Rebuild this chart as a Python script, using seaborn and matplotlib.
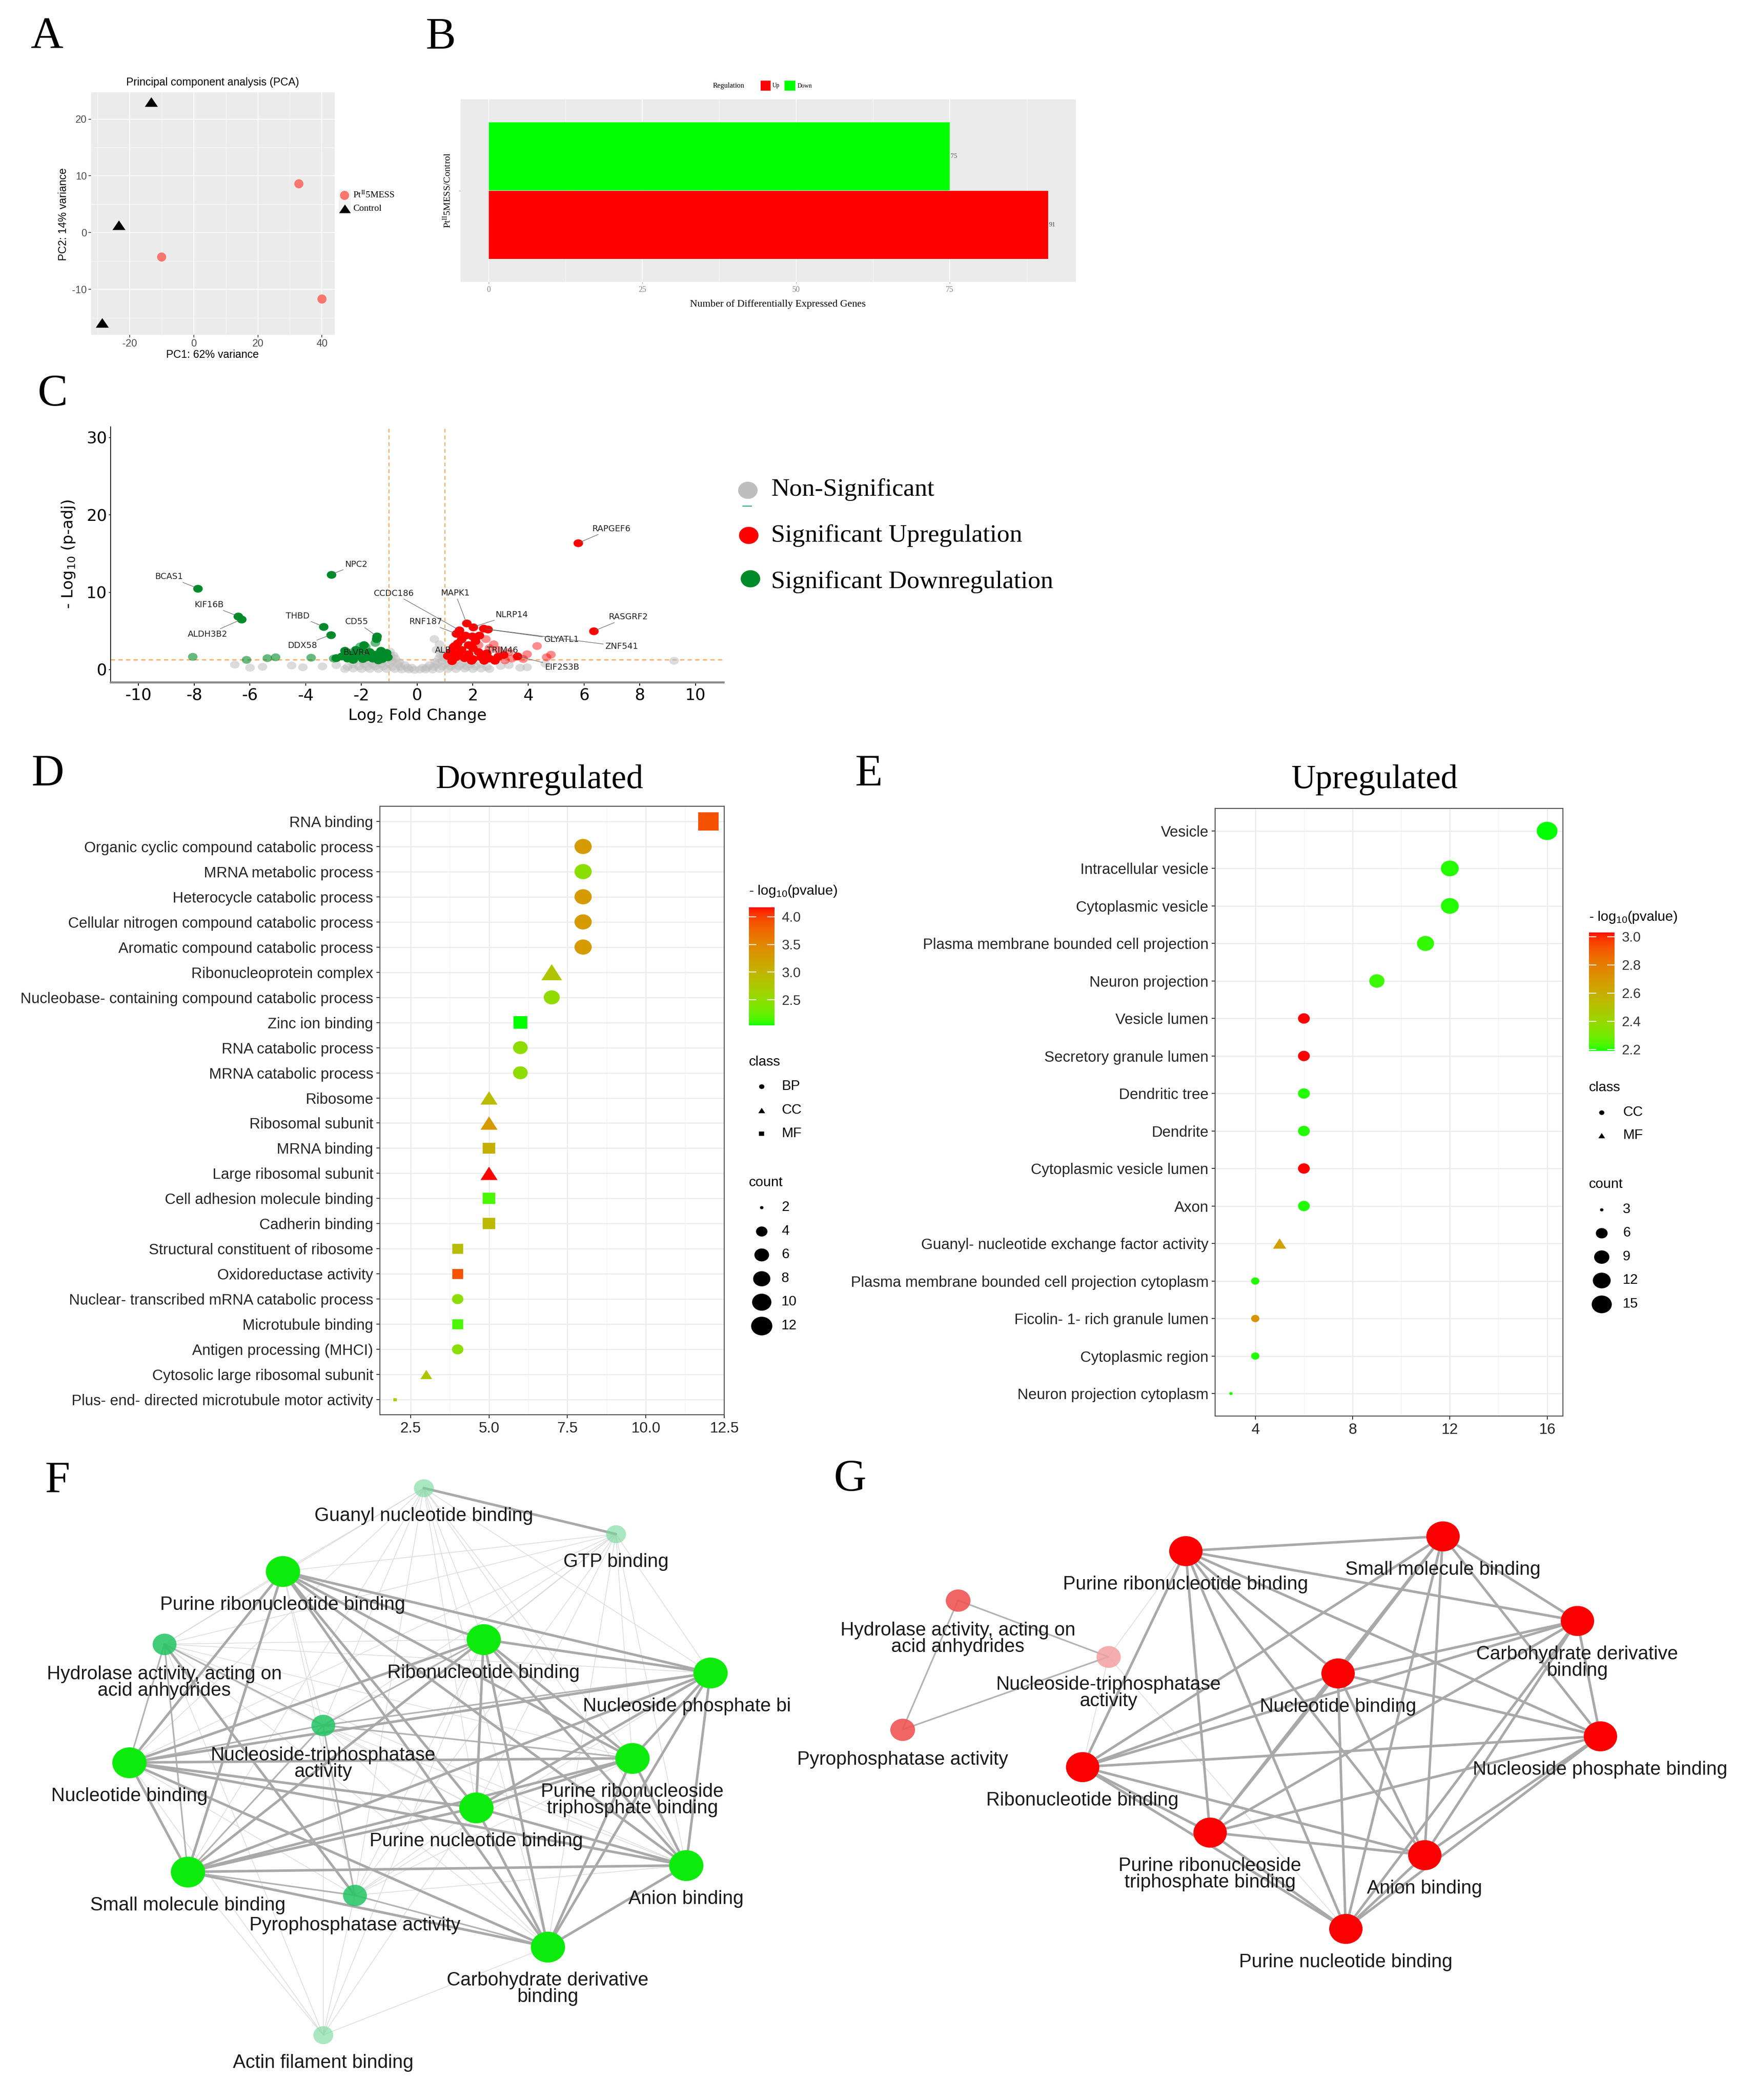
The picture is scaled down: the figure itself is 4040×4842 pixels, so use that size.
import numpy as np
import pandas as pd
import matplotlib
matplotlib.use("Agg")
import matplotlib.pyplot as plt
from matplotlib.path import Path
from matplotlib.patches import Rectangle
from matplotlib.colors import ListedColormap, Normalize
from matplotlib.cm import ScalarMappable
import seaborn as sns

W, H = 4041, 4842
SERIF = ["Liberation Serif", "DejaVu Serif"]
SANS = ["Liberation Sans", "DejaVu Sans"]
DJV = ["DejaVu Sans"]

# ---------------------------------------------------------------- data
# A - PCA
pca_pc1 = [32.8, -10.0, 40.0, -13.2, -23.3, -28.5]
pca_pc2 = [8.6, -4.3, -11.7, 23.0, 1.3, -15.9]
pca_group = ["Pt", "Pt", "Pt", "Control", "Control", "Control"]

# B - number of DEGs
deg_regulation = ["Down", "Up"]
deg_count = [75, 91]

# C - volcano points (log2 fold change, -log10 padj)
ns_points = [
    (-2.6, 0.1), (-2.3, 0.15), (-2.0, 0.1), (-1.7, 0.12), (-1.4, 0.1), (-1.1, 0.12), (-0.8, 0.1),
    (-0.55, 0.08), (-0.3, 0.05), (-0.1, 0.02), (0.1, 0.03), (0.3, 0.06), (0.55, 0.08), (0.8, 0.1),
    (1.1, 0.12), (1.4, 0.1), (1.7, 0.14), (2.0, 0.1), (2.3, 0.15), (2.6, 0.1),
    (-2.5, 0.4), (-2.1, 0.45), (-1.8, 0.4), (-1.5, 0.42), (-1.2, 0.45), (-0.9, 0.4), (-0.6, 0.38),
    (-0.35, 0.3), (0.35, 0.3), (0.6, 0.38), (0.9, 0.42), (1.2, 0.4), (1.5, 0.45), (1.8, 0.4),
    (2.1, 0.42), (2.5, 0.4),
    (-2.3, 0.75), (-1.9, 0.8), (-1.6, 0.75), (-1.3, 0.78), (-1.0, 0.8), (-0.7, 0.72), (-0.45, 0.6),
    (0.45, 0.62), (0.7, 0.75), (1.0, 0.8), (1.3, 0.76), (1.6, 0.8), (1.9, 0.75), (2.3, 0.7),
    (-2.0, 1.1), (-1.7, 1.12), (-1.4, 1.1), (-1.15, 1.15), (-0.9, 1.1), (-0.65, 1.0), (0.65, 1.0),
    (0.9, 1.12), (1.15, 1.1), (1.4, 1.15), (1.7, 1.1), (2.0, 1.05),
    (-0.95, 1.5), (-0.78, 1.45), (0.78, 1.5), (0.95, 1.55), (-0.95, 1.9), (-0.85, 1.85),
    (0.85, 1.9), (0.95, 2.0), (-0.97, 2.35), (0.95, 2.4), (0.62, 4.0), (0.8, 3.3), (0.7, 2.6),
    (-2.9, 0.6), (3.0, 0.5), (-3.4, 0.45), (3.3, 0.6), (-4.1, 0.35), (-4.5, 0.55), (-5.55, 0.4),
    (-6.0, 0.3), (-6.55, 0.65), (3.7, 0.25), (3.95, 0.35), (4.6, 0.8), (9.23, 1.17), (-0.2, 0.3),
    (0.2, 0.28),
]
up_points = [
    (5.78, 16.35), (6.35, 5.0), (1.78, 6.0), (2.01, 5.5), (2.39, 5.3), (1.52, 5.1), (1.41, 4.65),
    (1.73, 4.4), (2.23, 4.4), (1.98, 4.3), (1.6, 3.9), (2.1, 3.7), (1.45, 3.4), (1.85, 3.2),
    (1.3, 2.9), (1.6, 2.6), (2.0, 2.8), (1.2, 2.3), (1.5, 2.1), (1.85, 2.0), (2.2, 2.3), (2.5, 2.1),
    (1.1, 1.8), (1.4, 1.6), (1.7, 1.5), (2.0, 1.4), (2.3, 1.6), (2.6, 1.45), (2.9, 1.7), (3.1, 1.9),
    (3.6, 1.75), (2.4, 1.2), (1.95, 1.15), (1.25, 1.1), (2.8, 1.2), (2.55, 5.2), (1.35, 3.1),
]
up_weak_points = [
    (2.47, 3.95), (2.75, 3.3), (2.9, 2.6), (3.3, 2.3), (3.95, 2.0), (4.3, 3.1), (4.65, 1.6),
    (4.8, 1.95), (3.4, 1.45), (2.6, 2.8), (2.2, 3.2), (3.8, 1.4), (3.15, 1.25),
]
down_points = [
    (-7.87, 10.5), (-3.08, 12.3), (-6.42, 6.9), (-6.3, 6.5), (-3.36, 5.57), (-3.09, 4.51),
    (-1.44, 4.31), (-1.45, 3.95), (-1.9, 3.2), (-2.2, 2.6), (-2.6, 2.45), (-2.0, 2.5), (-1.7, 2.3),
    (-1.3, 2.45), (-1.1, 2.2), (-2.4, 1.95), (-2.7, 1.75), (-2.1, 1.85), (-1.8, 1.65), (-1.5, 1.95),
    (-1.2, 1.75), (-2.9, 1.5), (-2.5, 1.45), (-1.95, 1.4), (-1.6, 1.45), (-1.25, 1.4), (-1.05, 1.6),
    (-2.3, 1.3), (-1.4, 1.25),
]
down_weak_points = [
    (-8.05, 1.66), (-6.12, 1.29), (-5.38, 1.51), (-5.09, 1.6), (-3.8, 1.57), (-3.0, 1.46),
    (-1.5, 3.5), (-1.85, 2.95), (-2.05, 3.05),
]
gene_names = ["RAPGEF6", "RASGRF2", "NPC2", "BCAS1", "KIF16B", "ALDH3B2", "THBD", "DDX58", "CD55",
              "BLVRA", "CCDC186", "MAPK1", "NLRP14", "RNF187", "GLYATL1", "ZNF541", "ALB", "TRIM46",
              "EIF2S3B"]
gene_lfc = [5.78, 6.35, -3.08, -7.87, -6.42, -6.3, -3.36, -3.09, -1.44, -2.2, 1.52, 1.78, 2.01,
            1.41, 2.55, 2.39, 1.35, 3.1, 3.6]
gene_padj = [16.35, 5.0, 12.3, 10.5, 6.9, 6.5, 5.57, 4.51, 4.31, 2.6, 5.1, 6.0, 5.5, 4.65, 5.2,
             5.3, 3.1, 1.9, 1.75]
# label placement for the gene names (layout only)
gene_label_at = [(6.97, 18.2), (7.58, 6.8), (-2.18, 13.6), (-8.9, 12.0), (-7.46, 8.37),
                 (-7.51, 4.57), (-4.29, 6.94), (-4.12, 3.09), (-2.16, 6.17), (-2.18, 2.23),
                 (-0.83, 9.86), (1.37, 9.9), (3.4, 7.1), (0.31, 6.17), (5.2, 3.89), (7.35, 3.0),
                 (0.93, 2.51), (3.06, 2.51), (5.2, 0.29)]

# D - GO terms of downregulated genes
d_terms = ["RNA binding", "Organic cyclic compound catabolic process", "MRNA metabolic process",
           "Heterocycle catabolic process", "Cellular nitrogen compound catabolic process",
           "Aromatic compound catabolic process", "Ribonucleoprotein complex",
           "Nucleobase- containing compound catabolic process", "Zinc ion binding",
           "RNA catabolic process", "MRNA catabolic process", "Ribosome", "Ribosomal subunit",
           "MRNA binding", "Large ribosomal subunit", "Cell adhesion molecule binding",
           "Cadherin binding", "Structural constituent of ribosome", "Oxidoreductase activity",
           "Nuclear- transcribed mRNA catabolic process", "Microtubule binding",
           "Antigen processing (MHCI)", "Cytosolic large ribosomal subunit",
           "Plus- end- directed microtubule motor activity"]
d_count = [12, 8, 8, 8, 8, 8, 7, 7, 6, 6, 6, 5, 5, 5, 5, 5, 5, 4, 4, 4, 4, 4, 3, 2]
d_logp = [3.91, 3.28, 2.47, 3.28, 3.28, 3.28, 2.81, 2.53, 2.04, 2.5, 2.5, 2.89, 3.3, 3.06, 4.17,
          2.15, 2.93, 2.89, 3.9, 2.47, 2.15, 2.47, 2.79, 2.68]
d_class = ["MF", "BP", "BP", "BP", "BP", "BP", "CC", "BP", "MF", "BP", "BP", "CC", "CC", "MF", "CC",
           "MF", "MF", "MF", "MF", "BP", "MF", "BP", "CC", "MF"]

# E - GO terms of upregulated genes
e_terms = ["Vesicle", "Intracellular vesicle", "Cytoplasmic vesicle",
           "Plasma membrane bounded cell projection", "Neuron projection", "Vesicle lumen",
           "Secretory granule lumen", "Dendritic tree", "Dendrite", "Cytoplasmic vesicle lumen",
           "Axon", "Guanyl- nucleotide exchange factor activity",
           "Plasma membrane bounded cell projection cytoplasm", "Ficolin- 1- rich granule lumen",
           "Cytoplasmic region", "Neuron projection cytoplasm"]
e_count = [16, 12, 12, 11, 9, 6, 6, 6, 6, 6, 6, 5, 4, 4, 4, 3]
e_logp = [2.19, 2.2, 2.2, 2.21, 2.22, 3.03, 3.03, 2.2, 2.2, 3.03, 2.2, 2.65, 2.2, 2.71, 2.2, 2.2]
e_class = ["CC"] * 11 + ["MF"] + ["CC"] * 4

# F - network of downregulated MF terms (layout coordinates in figure pixels)
f_ids = ["GNB", "GTP", "PRB", "HAA", "RB", "NPB", "NTA", "NB", "PRTB", "PNB", "SMB", "AB", "PA",
         "CDB", "AFB"]
f_labels = ["Guanyl nucleotide binding", "GTP binding", "Purine ribonucleotide binding",
            "Hydrolase activity, acting on\nacid anhydrides", "Ribonucleotide binding",
            "Nucleoside phosphate binding", "Nucleoside-triphosphatase\nactivity",
            "Nucleotide binding", "Purine ribonucleoside\ntriphosphate binding",
            "Purine nucleotide binding", "Small molecule binding", "Anion binding",
            "Pyrophosphatase activity", "Carbohydrate derivative\nbinding", "Actin filament binding"]
f_x = [977, 1420, 652, 379, 1115, 1638, 745, 298, 1458, 1098, 433, 1582, 818, 1263, 745]
f_y = [3431, 3537, 3623, 3791, 3780, 3857, 3978, 4064, 4054, 4168, 4316, 4301, 4370, 4489, 4692]
f_tier = ["faint", "faint", "core", "mid", "core", "core", "mid", "core", "core", "core", "core",
          "core", "mid", "core", "faint"]
f_edges = [
    ("GNB", "PRB", "thin"), ("GNB", "RB", "thin"), ("GNB", "NPB", "thin"), ("GNB", "NB", "thin"),
    ("GNB", "PRTB", "thin"), ("GNB", "PNB", "thin"), ("GNB", "SMB", "thin"), ("GNB", "AB", "thin"),
    ("GNB", "CDB", "thin"), ("GNB", "HAA", "thin"), ("GNB", "NTA", "thin"), ("GNB", "PA", "thin"),
    ("GTP", "PRB", "thin"), ("GTP", "RB", "thin"), ("GTP", "NPB", "thin"), ("GTP", "NB", "thin"),
    ("GTP", "PRTB", "thin"), ("GTP", "PNB", "thin"), ("GTP", "SMB", "thin"), ("GTP", "AB", "thin"),
    ("GTP", "CDB", "thin"), ("GTP", "HAA", "thin"), ("GTP", "NTA", "thin"), ("GTP", "PA", "thin"),
    ("AFB", "SMB", "thin"), ("AFB", "NB", "thin"), ("AFB", "PA", "thin"), ("AFB", "CDB", "thin"),
    ("AFB", "PNB", "thin"), ("AFB", "HAA", "thin"), ("AFB", "NTA", "thin"), ("AFB", "RB", "thin"),
    ("HAA", "PRB", "thin"), ("HAA", "RB", "thin"), ("HAA", "NPB", "thin"), ("HAA", "PRTB", "thin"),
    ("HAA", "PNB", "thin"), ("HAA", "CDB", "thin"), ("HAA", "AB", "thin"), ("NTA", "PNB", "thin"),
    ("NTA", "PRB", "thin"), ("NTA", "CDB", "thin"), ("NTA", "AB", "thin"), ("PA", "NB", "thin"),
    ("PA", "AB", "thin"), ("PA", "PRB", "thin"), ("PA", "RB", "thin"), ("PA", "NPB", "thin"),
    ("PA", "PRTB", "thin"), ("PA", "PNB", "thin"),
    ("HAA", "NTA", "medium"), ("NTA", "PA", "medium"), ("HAA", "NB", "medium"),
    ("HAA", "SMB", "medium"), ("NTA", "NB", "medium"), ("NTA", "NPB", "medium"),
    ("NTA", "PRTB", "medium"), ("NTA", "RB", "medium"), ("NTA", "SMB", "medium"),
    ("PA", "SMB", "medium"), ("PA", "CDB", "medium"),
    ("GNB", "GTP", "thick"), ("HAA", "PA", "thick"),
    ("PRB", "RB", "thick"), ("PRB", "NPB", "thick"), ("PRB", "NB", "thick"), ("PRB", "PRTB", "thick"),
    ("PRB", "PNB", "thick"), ("PRB", "SMB", "thick"), ("PRB", "AB", "thick"), ("PRB", "CDB", "thick"),
    ("RB", "NPB", "thick"), ("RB", "NB", "thick"), ("RB", "PRTB", "thick"), ("RB", "PNB", "thick"),
    ("RB", "SMB", "thick"), ("RB", "AB", "thick"), ("RB", "CDB", "thick"), ("NPB", "NB", "thick"),
    ("NPB", "PRTB", "thick"), ("NPB", "PNB", "thick"), ("NPB", "SMB", "thick"), ("NPB", "AB", "thick"),
    ("NPB", "CDB", "thick"), ("NB", "PRTB", "thick"), ("NB", "PNB", "thick"), ("NB", "SMB", "thick"),
    ("NB", "AB", "thick"), ("NB", "CDB", "thick"), ("PRTB", "PNB", "thick"), ("PRTB", "SMB", "thick"),
    ("PRTB", "AB", "thick"), ("PRTB", "CDB", "thick"), ("PNB", "SMB", "thick"), ("PNB", "AB", "thick"),
    ("PNB", "CDB", "thick"), ("SMB", "AB", "thick"), ("SMB", "CDB", "thick"), ("AB", "CDB", "thick"),
]

# G - network of upregulated MF terms
g_ids = ["PRB", "SMB", "CDB", "HAA", "NTA", "NB", "PA", "NPB", "RB", "PRTB", "AB", "PNB"]
g_labels = ["Purine ribonucleotide binding", "Small molecule binding",
            "Carbohydrate derivative\nbinding", "Hydrolase activity, acting on\nacid anhydrides",
            "Nucleoside-triphosphatase\nactivity", "Nucleotide binding", "Pyrophosphatase activity",
            "Nucleoside phosphate binding", "Ribonucleotide binding",
            "Purine ribonucleoside\ntriphosphate binding", "Anion binding",
            "Purine nucleotide binding"]
g_x = [2734, 3327, 3637, 2209, 2556, 3085, 2081, 3690, 2496, 2790, 3285, 3103]
g_y = [3576, 3542, 3737, 3690, 3820, 3858, 3988, 4003, 4074, 4225, 4277, 4447]
g_tier = ["core", "core", "core", "mid", "faint", "core", "mid", "core", "core", "core", "core", "core"]
g_edges = [
    ("NTA", "RB", "thin"), ("NTA", "PNB", "thin"), ("NTA", "PRB", "thin"),
    ("HAA", "NTA", "medium"), ("HAA", "PA", "medium"), ("NTA", "PA", "medium"),
    ("PRB", "SMB", "thick"), ("PRB", "CDB", "thick"), ("PRB", "NB", "thick"), ("PRB", "NPB", "thick"),
    ("PRB", "RB", "thick"), ("PRB", "PRTB", "thick"), ("PRB", "AB", "thick"), ("PRB", "PNB", "thick"),
    ("SMB", "CDB", "thick"), ("SMB", "NB", "thick"), ("SMB", "NPB", "thick"), ("SMB", "RB", "thick"),
    ("SMB", "PRTB", "thick"), ("SMB", "AB", "thick"), ("SMB", "PNB", "thick"), ("CDB", "NB", "thick"),
    ("CDB", "NPB", "thick"), ("CDB", "RB", "thick"), ("CDB", "PRTB", "thick"), ("CDB", "AB", "thick"),
    ("CDB", "PNB", "thick"), ("NB", "NPB", "thick"), ("NB", "RB", "thick"), ("NB", "PRTB", "thick"),
    ("NB", "AB", "thick"), ("NB", "PNB", "thick"), ("NPB", "RB", "thick"), ("NPB", "PRTB", "thick"),
    ("NPB", "AB", "thick"), ("NPB", "PNB", "thick"), ("RB", "PRTB", "thick"), ("RB", "AB", "thick"),
    ("RB", "PNB", "thick"), ("PRTB", "AB", "thick"), ("PRTB", "PNB", "thick"), ("AB", "PNB", "thick"),
]


# ---------------------------------------------------------------- helpers
def px_axes(fig, x0, y0, x1, y1):
    return fig.add_axes([x0 / W, 1 - y1 / H, (x1 - x0) / W, (y1 - y0) / H])


def ellipse_path(frac=1.0, q=0.88):
    c = Path.unit_circle()
    v, codes = c.vertices, c.codes
    if codes[-1] == Path.CLOSEPOLY:
        v, codes = v[:-1], codes[:-1]
    v = v * np.array([frac, frac * q])
    v = np.vstack([v, [[1.0, 0.0]]])   # ignored vertex, keeps marker scale
    return Path(v, np.append(codes, Path.CLOSEPOLY))


def rect_path(frac=0.75, q=0.88):
    a, b = frac, frac * q
    return Path([(-a, -b), (a, -b), (a, b), (-a, b), (1.0, 0.0)],
                [Path.MOVETO, Path.LINETO, Path.LINETO, Path.LINETO, Path.CLOSEPOLY])


def tri_path(q=0.88):
    h = np.sqrt(3) * q
    return Path([(-1, -h / 2), (1, -h / 2), (0, h / 2), (0, 0)],
                [Path.MOVETO, Path.LINETO, Path.LINETO, Path.CLOSEPOLY])


def gg_size(c, cmin, cmax, k):
    t = (c - cmin) / (cmax - cmin)
    return (k * (1 + 5 * np.sqrt(t)) * 0.72) ** 2


def gg_gray_panel(ax):
    ax.set_facecolor("#EBEBEB")
    for s in ax.spines.values():
        s.set_visible(False)
    ax.set_axisbelow(True)
    ax.grid(which="major", color="white", lw=1.3)
    ax.grid(which="minor", color="white", lw=0.6)


def gg_bw_panel(ax):
    ax.set_facecolor("white")
    for s in ax.spines.values():
        s.set_color("#4D4D4D")
        s.set_linewidth(1.6)
    ax.set_axisbelow(True)
    ax.grid(which="major", color="#EBEBEB", lw=1.8)
    ax.grid(which="minor", axis="x", color="#F2F2F2", lw=1.0)


# ggplot style green -> red gradient (interpolated in CIELAB)
_M = np.array([[0.4124, 0.3576, 0.1805], [0.2126, 0.7152, 0.0722], [0.0193, 0.1192, 0.9505]])
_WHITE = _M.sum(axis=1)


def rgb_to_lab(rgb):
    c = np.asarray(rgb, float)
    lin = np.where(c <= 0.04045, c / 12.92, ((c + 0.055) / 1.055) ** 2.4)
    xyz = _M @ lin / _WHITE
    d = 6 / 29
    f = np.where(xyz > d ** 3, np.cbrt(xyz), xyz / (3 * d * d) + 4 / 29)
    return np.array([116 * f[1] - 16, 500 * (f[0] - f[1]), 200 * (f[1] - f[2])])


def lab_to_rgb(lab):
    L, a, b = lab
    fy = (L + 16) / 116
    f = np.array([fy + a / 500, fy, fy - b / 200])
    d = 6 / 29
    xyz = np.where(f > d, f ** 3, 3 * d * d * (f - 4 / 29)) * _WHITE
    lin = np.clip(np.linalg.solve(_M, xyz), 0, 1)
    return np.where(lin <= 0.0031308, 12.92 * lin, 1.055 * lin ** (1 / 2.4) - 0.055)


lab_lo, lab_hi = rgb_to_lab([0, 1, 0]), rgb_to_lab([1, 0, 0])
gg_cmap = ListedColormap([lab_to_rgb(lab_lo + t * (lab_hi - lab_lo)) for t in np.linspace(0, 1, 256)])

plt.rcParams["font.family"] = SANS
plt.rcParams["axes.unicode_minus"] = False

fig = plt.figure(figsize=(W / 100, H / 100), dpi=100)
fig.patch.set_facecolor("white")

# ---------------------------------------------------------------- A
axA = px_axes(fig, 210, 213, 772, 772)
gg_gray_panel(axA)
pca_df = pd.DataFrame({"PC1": pca_pc1, "PC2": pca_pc2, "group": pca_group})
sns.scatterplot(data=pca_df, x="PC1", y="PC2", hue="group", style="group",
                palette={"Pt": "#F8766D", "Control": "black"},
                markers={"Pt": ellipse_path(0.7, 1.0), "Control": tri_path(0.85)},
                s=(30 * 0.72) ** 2, linewidth=0, legend=False, ax=axA, zorder=3)
axA.set_xlim(-32, 44)
axA.set_ylim(-18, 24.7)
axA.set_xticks([-20, 0, 20, 40])
axA.set_yticks([-10, 0, 10, 20])
axA.set_xticks([-30, -10, 10, 30], minor=True)
axA.set_yticks([-15, -5, 5, 15], minor=True)
axA.tick_params(which="major", length=4, width=1.2, color="#333333", labelsize=17,
                labelcolor="#4D4D4D", pad=3)
axA.tick_params(which="minor", length=0)
axA.set_xlabel("")
axA.set_ylabel("")

# ---------------------------------------------------------------- B
axB = px_axes(fig, 1062, 229, 2481, 650)
gg_gray_panel(axB)
deg_df = pd.DataFrame({"comparison": ["PtII5MESS/Control"] * 2,
                       "regulation": deg_regulation, "count": deg_count})
sns.barplot(data=deg_df, x="count", y="comparison", hue="regulation", hue_order=["Down", "Up"],
            palette={"Up": "#FF0000", "Down": "#00FF00"}, saturation=1, width=0.8, linewidth=0,
            errorbar=None, legend=False, orient="h", ax=axB)
for cont in axB.containers:
    axB.bar_label(cont, fontsize=11, color="#4D4D4D", padding=1, family=SERIF)
axB.set_ylim(0.533, -0.533)
axB.set_xlim(-4.55, 95.5)
axB.set_xticks([0, 25, 50, 75])
axB.set_xticks([12.5, 37.5, 62.5, 87.5], minor=True)
axB.set_yticks([0])
axB.set_yticklabels([""])
axB.tick_params(which="major", length=3, width=1, color="#AAAAAA", labelsize=13,
                labelcolor="#808080", pad=4, labelfontfamily=SERIF[0])
axB.tick_params(which="minor", length=0)
axB.set_xlabel("")
axB.set_ylabel("")

# ---------------------------------------------------------------- C
axC = px_axes(fig, 255, 984, 1668, 1573)
dot = ellipse_path(1.0, 0.82)
for pts, col, a in [(ns_points, "#BEBEBE", 0.55), (down_weak_points, "#008B2A", 0.6),
                    (down_points, "#008B2A", 1.0), (up_weak_points, "#FF0000", 0.45),
                    (up_points, "#FF0000", 1.0)]:
    df = pd.DataFrame(pts, columns=["lfc", "padj"])
    sns.scatterplot(data=df, x="lfc", y="padj", color=col, alpha=a, marker=dot,
                    s=(22 * 0.72) ** 2, linewidth=0, legend=False, ax=axC, zorder=3)
for xv in (-1, 1):
    axC.axvline(xv, color="#FFA050", lw=1.6, ls=(0, (4, 3)), zorder=2)
axC.axhline(1.3, color="#FFA050", lw=1.8, ls=(0, (4, 3)), zorder=2)
for name, gx, gy, (tx, ty) in zip(gene_names, gene_lfc, gene_padj, gene_label_at):
    axC.annotate(name, xy=(gx, gy), xytext=(tx, ty), ha="center", va="center", fontsize=14,
                 color="#222222", family=DJV, zorder=5,
                 arrowprops=dict(arrowstyle="-", color="#666666", lw=0.9, shrinkA=1, shrinkB=3))
axC.set_xlim(-11, 11)
axC.set_ylim(-1.63, 31.4)
axC.set_xticks(np.arange(-10, 11, 2))
axC.set_yticks([0, 10, 20, 30])
for side in ("top", "right"):
    axC.spines[side].set_visible(False)
axC.spines["left"].set_color("black")
axC.spines["left"].set_linewidth(1.3)
axC.spines["bottom"].set_color("#8C8C8C")
axC.spines["bottom"].set_linewidth(3.5)
axC.tick_params(axis="x", length=6, width=1.5, color="black", labelsize=27, pad=4,
                labelfontfamily="DejaVu Sans")
axC.tick_params(axis="y", length=3, width=1.2, color="black", labelsize=27, pad=3,
                labelfontfamily="DejaVu Sans")
axC.set_xlabel("")
axC.set_ylabel("")

# ---------------------------------------------------------------- D
TICK = 25
axD = px_axes(fig, 876, 1859, 1670, 3262)
gg_bw_panel(axD)
d_df = pd.DataFrame({"term": d_terms, "count": d_count, "logp": d_logp, "cls": d_class})
d_df["pos"] = np.arange(1, len(d_df) + 1)
d_markers = {"BP": ellipse_path(0.775), "CC": tri_path(0.9), "MF": rect_path(0.75)}
d_sizes = {c: gg_size(c, 2, 12, 10.5) for c in sorted(set(d_count))}
d_norm = (2.04, 4.17)
sns.scatterplot(data=d_df, x="count", y="pos", hue="logp", palette=gg_cmap, hue_norm=d_norm,
                style="cls", markers=d_markers, size="count", sizes=d_sizes, linewidth=0,
                legend=False, ax=axD, zorder=3)
axD.set_xlim(1.52, 12.5)
axD.set_ylim(24.6, 0.4)
axD.set_xticks([2.5, 5, 7.5, 10, 12.5])
axD.set_xticklabels(["2.5", "5.0", "7.5", "10.0", "12.5"])
axD.set_xticks([3.75, 6.25, 8.75, 11.25], minor=True)
axD.set_yticks(d_df["pos"])
axD.set_yticklabels(d_terms)
axD.tick_params(which="major", length=6, width=1.5, color="#333333", labelsize=TICK,
                labelcolor="#262626", pad=5)
axD.tick_params(which="minor", length=0)
axD.set_xlabel("")
axD.set_ylabel("")

# ---------------------------------------------------------------- E
axE = px_axes(fig, 2802, 1864, 3604, 3265)
gg_bw_panel(axE)
e_df = pd.DataFrame({"term": e_terms, "count": e_count, "logp": e_logp, "cls": e_class})
e_df["pos"] = np.arange(1, len(e_df) + 1)
e_markers = {"CC": ellipse_path(0.775), "MF": tri_path(0.9)}
e_sizes = {c: gg_size(c, 3, 16, 10.3) for c in sorted(set(e_count))}
e_norm = (2.19, 3.03)
sns.scatterplot(data=e_df, x="count", y="pos", hue="logp", palette=gg_cmap, hue_norm=e_norm,
                style="cls", markers=e_markers, size="count", sizes=e_sizes, linewidth=0,
                legend=False, ax=axE, zorder=3)
axE.set_xlim(2.35, 16.65)
axE.set_ylim(16.6, 0.4)
axE.set_xticks([4, 8, 12, 16])
axE.set_xticks([6, 10, 14], minor=True)
axE.set_yticks(e_df["pos"])
axE.set_yticklabels(e_terms)
axE.tick_params(which="major", length=6, width=1.5, color="#333333", labelsize=TICK,
                labelcolor="#262626", pad=5)
axE.tick_params(which="minor", length=0)
axE.set_xlabel("")
axE.set_ylabel("")

# colour bars for D and E
for (x0, y0, x1, y1), norm, ticks in [((1727, 2092, 1786, 2364), d_norm, [2.5, 3.0, 3.5, 4.0]),
                                      ((3664, 2150, 3723, 2423), e_norm, [2.2, 2.4, 2.6, 2.8, 3.0])]:
    cax = px_axes(fig, x0, y0, x1, y1)
    cb = fig.colorbar(ScalarMappable(norm=Normalize(*norm), cmap=gg_cmap), cax=cax)
    cb.outline.set_visible(False)
    cb.set_ticks(ticks, labels=[f"{t:.1f}" for t in ticks])
    cb.minorticks_off()
    cax.tick_params(axis="y", direction="in", length=12, width=1.5, color="white", left=True,
                    right=True, labelleft=False, labelright=True, labelsize=23,
                    labelcolor="#333333", pad=12)


# ---------------------------------------------------------------- F and G networks
EDGE_COLOR = {"thin": "#D6D6D6", "medium": "#B3B3B3", "thick": "#A9A9A9"}
EDGE_LW = {"thin": 1.0, "medium": 2.6, "thick": 4.2}
node_marker = ellipse_path(1.0, 0.9)


def draw_network(ax, ids, labels, xs, ys, tiers, edges, colors, alphas, widths, clip):
    pos = {i: (x, y) for i, x, y in zip(ids, xs, ys)}
    for a, b, w in edges:
        ax.plot([pos[a][0], pos[b][0]], [pos[a][1], pos[b][1]], color=EDGE_COLOR[w],
                lw=EDGE_LW[w], zorder=1, solid_capstyle="round")
    df = pd.DataFrame({"x": xs, "y": ys, "tier": tiers})
    for tier in ["faint", "mid", "core"]:
        sub = df[df["tier"] == tier]
        if len(sub):
            sns.scatterplot(data=sub, x="x", y="y", color=colors[tier], alpha=alphas[tier],
                            marker=node_marker, s=(widths[tier] * 0.72) ** 2, linewidth=0,
                            legend=False, ax=ax, zorder=3)
    offs = {"core": 57, "mid": 49, "faint": 44}
    for lab, x, y, t in zip(labels, xs, ys, tiers):
        ax.text(x, y + offs[t], lab, ha="center", va="top", fontsize=31.5, linespacing=0.9,
                color="#1A1A1A", clip_on=clip, zorder=4)


axF = px_axes(fig, 0, 3380, 1824, 4842)
draw_network(axF, f_ids, f_labels, f_x, f_y, f_tier, f_edges,
             {"core": "#0DEB0D", "mid": "#22C463", "faint": "#6FD897"},
             {"core": 1.0, "mid": 0.85, "faint": 0.6},
             {"core": 79, "mid": 55, "faint": 46}, True)
axF.set_xlim(0, 1824)
axF.set_ylim(4842, 3380)
axF.axis("off")

axG = px_axes(fig, 1830, 3380, 4041, 4842)
draw_network(axG, g_ids, g_labels, g_x, g_y, g_tier, g_edges,
             {"core": "#FA0000", "mid": "#F05454", "faint": "#F4A0A0"},
             {"core": 1.0, "mid": 0.9, "faint": 0.85},
             {"core": 77, "mid": 57, "faint": 56}, False)
axG.set_xlim(1830, 4041)
axG.set_ylim(4842, 3380)
axG.axis("off")

# ---------------------------------------------------------------- overlay: letters, titles, legends
ov = fig.add_axes([0, 0, 1, 1])
ov.patch.set_alpha(0)
ov.axis("off")

for letter, (lx, ly) in zip("ABCDEFG", [(109, 86), (1017, 87), (122, 910), (111, 1786),
                                       (2004, 1786), (132, 3414), (1960, 3412)]):
    ov.text(lx, ly, letter, fontsize=75, family=SERIF, ha="center", va="center")

# A texts and legend
ov.text(490, 190, "Principal component analysis (PCA)", fontsize=18, ha="center", va="center")
ov.text(490, 818, "PC1: 62% variance", fontsize=18, ha="center", va="center")
ov.text(146, 494, "PC2: 14% variance", fontsize=18, ha="center", va="center", rotation=90)
ov.add_patch(Rectangle((781, 437), 28, 58, color="#F2F2F2", lw=0))
ov.scatter([794], [450], marker=ellipse_path(0.7, 1.0), s=(30 * 0.72) ** 2, color="#F8766D", lw=0)
ov.scatter([795], [481], marker=tri_path(0.85), s=(27 * 0.72) ** 2, color="black", lw=0)
ov.text(814, 450, r"Pt$\mathregular{^{II}}$5MESS", fontsize=15.5, family=SERIF, va="center")
ov.text(814, 482, "Control", fontsize=15.5, family=SERIF, va="center")

# B texts and legend
ov.text(1644, 198, "Regulation", fontsize=12, family=SERIF, va="center")
ov.add_patch(Rectangle((1754, 186), 23, 23, color="#FF0000", lw=0))
ov.text(1781, 198, "Up", fontsize=10, family=SERIF, va="center")
ov.add_patch(Rectangle((1809, 186), 25, 23, color="#00FF00", lw=0))
ov.text(1839, 198, "Down", fontsize=10, family=SERIF, va="center")
ov.text(1032, 439, r"Pt$\mathregular{^{II}}$5MESS/Control", fontsize=16, family=SERIF,
        ha="center", va="center", rotation=90)
ov.text(1794, 701, "Number of Differentially Expressed Genes", fontsize=17, family=SERIF,
        ha="center", va="center")

# C axis labels and legend
ov.text(962, 1650, r"Log$\mathregular{_2}$ Fold Change", fontsize=26, family=DJV,
        ha="center", va="center")
ov.text(158, 1278, r"- Log$\mathregular{_{10}}$ (p-adj)", fontsize=26, family=DJV,
        ha="center", va="center", rotation=90)
for (mx, my), base, col, lab in zip([(1724, 1130), (1726, 1234), (1730, 1334)],
                                    [1143, 1249, 1356],
                                    ["#BEBEBE", "#FF0000", "#008B2A"],
                                    ["Non-Significant", "Significant Upregulation",
                                     "Significant Downregulation"]):
    ov.scatter([mx], [my], marker=ellipse_path(1.0, 0.88), s=(45 * 0.72) ** 2, color=col, lw=0)
    ov.text(1778, base, lab, fontsize=42, family=SERIF, va="baseline")
ov.plot([1713, 1733], [1167, 1167], color="#1AAF5D", lw=1.5)

# D / E titles
ov.text(1244, 1798, "Downregulated", fontsize=56, family=SERIF, ha="center", va="center")
ov.text(3169, 1798, "Upregulated", fontsize=56, family=SERIF, ha="center", va="center")

# D legend
LEG = 23
ov.text(1727, 2055, r"- log$\mathregular{_{10}}$(pvalue)", fontsize=LEG, va="center")
ov.text(1727, 2449, "class", fontsize=LEG, va="center")
key_s = (10.5 * 1.5 * 0.72) ** 2
for cls, ky in zip(["BP", "CC", "MF"], [2505, 2560, 2614]):
    ov.scatter([1756], [ky], marker=d_markers[cls], s=key_s, color="black", lw=0)
    ov.text(1802, ky, cls, fontsize=LEG, va="center")
ov.text(1727, 2727, "count", fontsize=LEG, va="center")
for c, ky in zip([2, 4, 6, 8, 10, 12], [2784, 2839, 2893, 2948, 3002, 3057]):
    ov.scatter([1756], [ky], marker=d_markers["BP"], s=gg_size(c, 2, 12, 10.5), color="black", lw=0)
    ov.text(1802, ky, str(c), fontsize=LEG, va="center")

# E legend
ov.text(3664, 2115, r"- log$\mathregular{_{10}}$(pvalue)", fontsize=LEG, va="center")
ov.text(3664, 2508, "class", fontsize=LEG, va="center")
key_e = (10.3 * 1.5 * 0.72) ** 2
for cls, ky in zip(["CC", "MF"], [2565, 2618]):
    ov.scatter([3693], [ky], marker=e_markers[cls], s=key_e, color="black", lw=0)
    ov.text(3742, ky, cls, fontsize=LEG, va="center")
ov.text(3664, 2731, "count", fontsize=LEG, va="center")
for c, ky in zip([3, 6, 9, 12, 15], [2789, 2843, 2898, 2952, 3007]):
    ov.scatter([3693], [ky], marker=e_markers["CC"], s=gg_size(c, 3, 16, 10.3), color="black", lw=0)
    ov.text(3742, ky, str(c), fontsize=LEG, va="center")

ov.set_xlim(0, W)
ov.set_ylim(H, 0)

fig.savefig("out.png", dpi=100)
